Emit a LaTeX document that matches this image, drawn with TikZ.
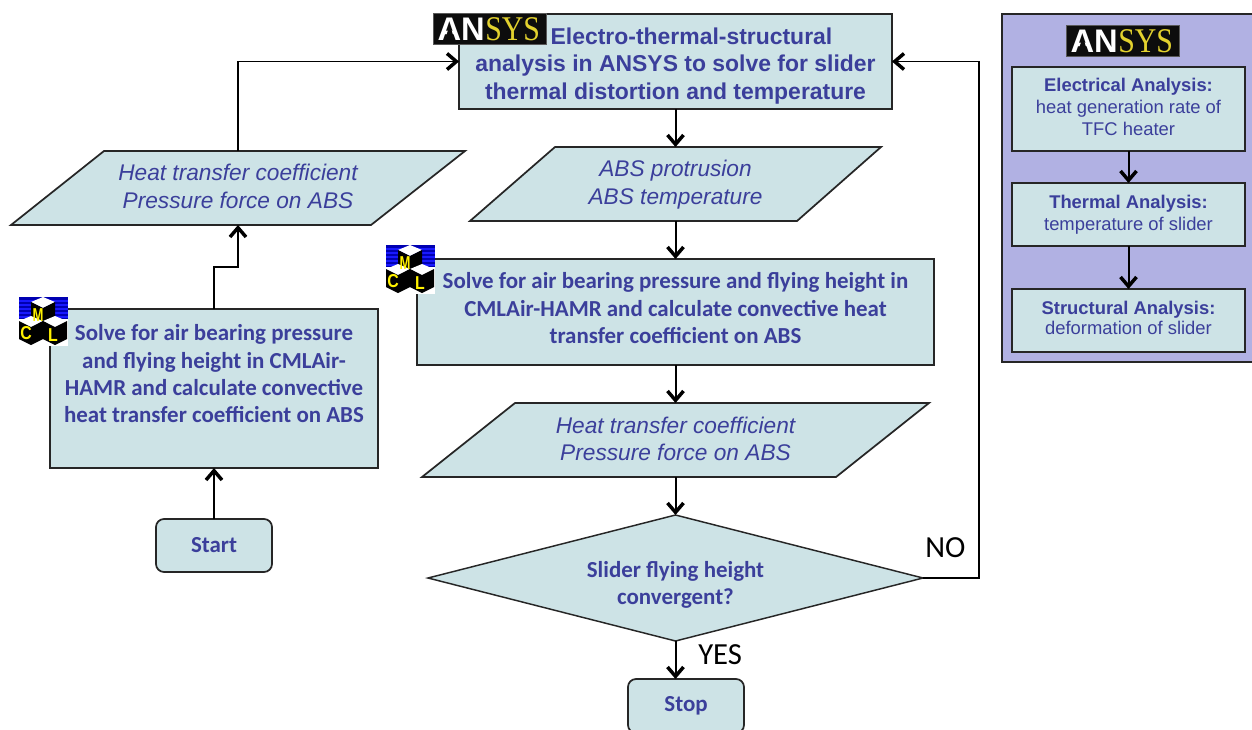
\documentclass[tikz,border=0pt]{standalone}
\usepackage{fontspec}
\setmainfont{Liberation Sans}
\newfontfamily\calfont{Carlito}
\newfontfamily\serfont{Liberation Serif}
\usetikzlibrary{arrows.meta,calc}
\definecolor{boxfill}{HTML}{CDE3E6}
\definecolor{panelfill}{HTML}{B1B1E3}
\definecolor{txtblue}{HTML}{3B3F9B}
\definecolor{ansysyellow}{HTML}{E3D22E}
\newcommand{\fs}[2]{\fontsize{#1}{#2}\selectfont}
\tikzset{
 x=0.75pt,y=-0.75pt,
 procbox/.style={draw=black!85,line width=1.3pt,fill=boxfill,align=center,text=txtblue,inner sep=0pt,outer sep=0pt},
 rbox/.style={procbox,rounded corners=6pt,font=\calfont\bfseries\fs{17.2}{19}},
 holder/.style={inner sep=0pt,outer sep=0pt,align=center,text=txtblue},
 cali/.style={font=\calfont\bfseries\fs{17.2}{20.3}},
 ari/.style={font=\bfseries\fs{17.2}{20.6}},
 slant/.style={font=\itshape\fs{17}{20.6}},
 side/.style={font=\fs{13.8}{16.6}},
 conn/.style={draw=black,line width=1.5pt,-{Straight Barb[length=7pt,width=12pt,line width=2.6pt]}},
 thinconn/.style={conn,line width=1.1pt},
 label/.style={inner sep=0pt,font=\calfont\fs{23}{24},text=black},
 logobg/.style={fill=black!95,draw=black!65,line width=0.4pt,inner sep=0pt,minimum width=84.75pt,minimum height=23.25pt},
 cmlletter/.style={inner sep=0pt,text=yellow,font=\bfseries\fs{14}{14}},
}
\newcommand{\ansyslogo}[2]{%
 \node[logobg] (#1) at (#2) {};
 \node[inner sep=0pt,anchor=base east,text=white,font=\bfseries\fs{24.5}{26}] (#1a) at ($(#1.center)+(-4.5,11.5)$) {AN};
 \fill[black!95] ($(#1.center)+(-45,12)$) -- ($(#1.center)+(-34.5,12)$) -- ($(#1.center)+(-39.75,-3)$) -- cycle;
 \node[inner sep=0pt,anchor=base west,text=ansysyellow,font=\serfont\fs{26}{26}] (#1b) at ($(#1.center)+(-4.5,11.5)$) {\scalebox{0.86}[1]{SYS}};
}
\newcommand{\cmllogo}[1]{%
 \begin{scope}[shift={(#1)}]
  \fill[white] (0,0) rectangle (49,49);
  \fill[blue!70!black] (0,0) rectangle (49,22);
  \foreach \yy in {3,7,...,19}{\fill[blue!90!white] (0,\yy) rectangle (49,\yy+1.5);}
  \fill[white] (12,5) -- (24,0) -- (36,5) -- (24,11) -- cycle;
  \fill[black] (12,5) -- (24,11) -- (36,5) -- (36,22) -- (24,29) -- (12,22) -- cycle;
  \fill[white] (0,24) -- (12,19) -- (24,24) -- (12,30) -- cycle;
  \fill[black] (0,24) -- (12,30) -- (24,24) -- (24,42) -- (12,48) -- (0,42) -- cycle;
  \fill[white] (24,24) -- (36,19) -- (48,24) -- (36,30) -- cycle;
  \fill[black] (24,24) -- (36,30) -- (48,24) -- (48,42) -- (36,48) -- (24,42) -- cycle;
  \node[cmlletter] at (19,18) {\scalebox{0.7}[1]{M}};
  \node[cmlletter] at (7,36) {\scalebox{0.85}[1]{C}};
  \node[cmlletter] at (34,38) {\scalebox{0.85}[1]{L}};
 \end{scope}
}
\begin{document}
\begin{tikzpicture}
\clip (0,0) rectangle (1252,729);
\fill[white] (0,0) rectangle (1252,729);

% right panel
\node[draw=black!85,line width=1.1pt,fill=panelfill,inner sep=0pt,outer sep=0pt,minimum width=192pt,minimum height=261pt] (panel) at (1130,188) {};
\ansyslogo{logoR}{1122.5,40.5}
\node[procbox,side,minimum width=174.75pt,minimum height=63pt] (elec) at (1128.5,109) {\textbf{Electrical Analysis:}\\heat generation rate of\\TFC heater\rule[-3.5pt]{0pt}{0pt}};
\node[procbox,side,minimum width=174.75pt,minimum height=47.25pt] (therm) at (1128.5,214.5) {\textbf{Thermal Analysis:}\\temperature of slider};
\node[procbox,side,minimum width=174.75pt,minimum height=47.25pt] (struct) at (1128.5,320.5) {\textbf{Structural Analysis:}\\[-1.5pt]deformation of slider\rule[-3.5pt]{0pt}{0pt}};

% process boxes
\node[procbox,ari,minimum width=324.75pt,minimum height=71.25pt] (A) at (675.5,61.5) {\rule{0pt}{19pt}\hspace{24pt}Electro-thermal-structural\\analysis in ANSYS to solve for slider\\thermal distortion and temperature};
\node[procbox,cali,minimum width=387.75pt,minimum height=79.5pt] (B) at (675.5,312) {Solve for air bearing pressure and flying height in\\CMLAir-HAMR and calculate convective heat\\transfer coefficient on ABS\rule[-6pt]{0pt}{0pt}};
\node[procbox,cali,minimum width=246pt,minimum height=119.25pt] (C) at (214,388.5) {Solve for air bearing pressure\\and flying height in CMLAir-\\HAMR and calculate convective\\heat transfer coefficient on ABS\\[2.2pt]\mbox{}};

% parallelograms
\node[holder,minimum width=341pt,minimum height=55.5pt] (P1) at (238,188) {};
\fill[boxfill,draw=black!85,line width=1.3pt,line join=miter] (104,151) -- (465,151) -- (371,225) -- (11,225) -- cycle;
\node[holder,slant] (P1t) at ($(P1.center)+(0,-1.5)$) {Heat transfer coefficient\\Pressure force on ABS};

\node[holder,minimum width=308pt,minimum height=55.5pt] (P2) at (675.5,184) {};
\fill[boxfill,draw=black!85,line width=1.3pt,line join=miter] (555,147) -- (881,147) -- (797,221) -- (470,221) -- cycle;
\node[holder,slant] (P2t) at ($(P2.center)+(0,0.5)$) {ABS protrusion\\ABS temperature};

\node[holder,minimum width=380pt,minimum height=55.5pt] (P3) at (675.5,440) {};
\fill[boxfill,draw=black!85,line width=1.3pt,line join=miter] (515,403) -- (929,403) -- (836,477) -- (422,477) -- cycle;
\node[holder,slant] (P3t) at ($(P3.center)+(0,-1)$) {Heat transfer coefficient\\Pressure force on ABS};

% decision
\node[holder,minimum width=371.25pt,minimum height=94.5pt] (D) at (675.5,578) {};
\fill[boxfill,draw=black!85,line width=1.1pt,line join=miter] (D.north) -- (D.east) -- (D.south) -- (D.west) -- cycle;
\node[holder,font=\calfont\bfseries\fs{17.2}{20.3}] (Dt) at ($(D.center)+(0,6.5)$) {Slider flying height\\convergent?};

% terminals
\node[rbox,minimum width=87pt,minimum height=39.75pt] (start) at (214,545.5) {\raisebox{-0.7pt}{Start}};
\node[rbox,minimum width=87pt,minimum height=40.5pt] (stop) at (686,706) {\raisebox{-0.7pt}{Stop}};

% logos
\ansyslogo{logoT}{489.5,28.5}
\cmllogo{19,297}
\cmllogo{386,245}

% connectors
\draw[conn] (start.north) -- (C.south);
\draw[thinconn] (C.north) |- ($(C.north)!0.5!(P1.south)$) -| (P1.south);
\draw[thinconn] (P1.north) |- (A.west);
\draw[conn] (A.south) -- (P2.north);
\draw[conn] (P2.south) -- (B.north);
\draw[conn] (B.south) -- (P3.north);
\draw[conn] (P3.south) -- (D.north);
\draw[conn] (D.south) -- (D.south |- stop.north);
\coordinate (loop) at (979,61.5);
\draw[thinconn] (D.east) -| (loop) -- (A.east);
\draw[conn] (elec.south) -- (therm.north);
\draw[conn] (therm.south) -- (struct.north);

% labels
\node[label,anchor=base west] (no) at (925,557) {NO};
\node[label,anchor=base west] (yes) at (698,664) {YES};
\end{tikzpicture}
\end{document}
